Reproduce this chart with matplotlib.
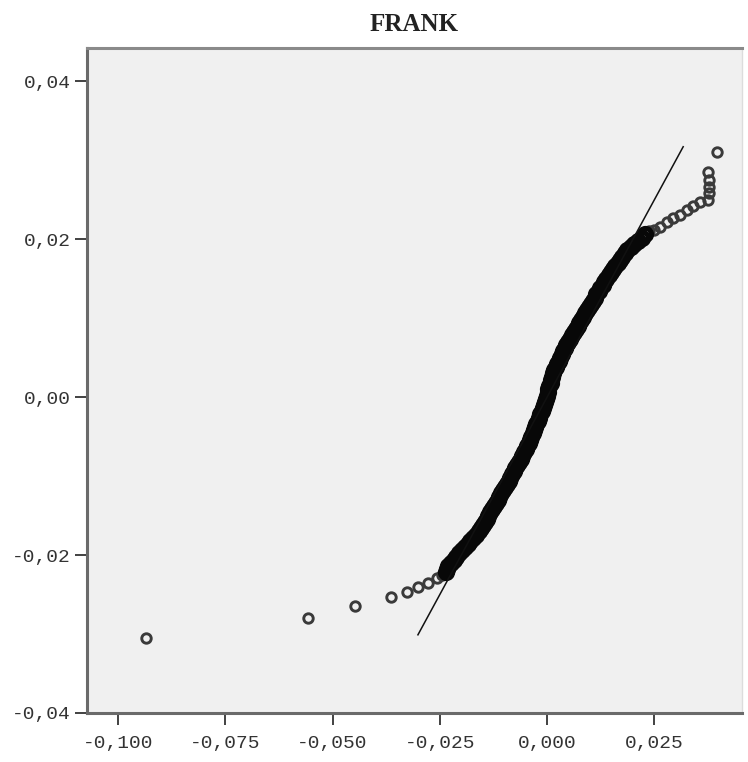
import matplotlib
matplotlib.use("Agg")
import matplotlib.pyplot as plt

# observed value (x) vs expected normal value (y), read off the picture
# lower tail, separate circles
low_obs = [-0.0934, -0.0557, -0.0447, -0.0363, -0.0326, -0.0301, -0.0277, -0.0256, -0.0244]
low_exp = [-0.0305, -0.0280, -0.0265, -0.0253, -0.0247, -0.0241, -0.0235, -0.0229, -0.0225]

# dense middle part (solid black band)
band_obs = [
    -0.0236, -0.0233, -0.0230, -0.0225, -0.0218, -0.0212, -0.0205, -0.0199, -0.0192,
    -0.0185, -0.0179, -0.0172, -0.0166, -0.0159, -0.0154, -0.0150, -0.0145, -0.0141,
    -0.0137, -0.0132, -0.0128, -0.0124, -0.0119, -0.0115, -0.0111, -0.0107, -0.0102,
    -0.0098, -0.0094, -0.0090, -0.0086, -0.0082, -0.0078, -0.0074, -0.0070, -0.0066,
    -0.0062, -0.0058, -0.0054, -0.0050, -0.0046, -0.0043, -0.0040, -0.0037, -0.0034,
    -0.0031, -0.0028, -0.0025, -0.0022, -0.0019, -0.0016, -0.0013, -0.0010, -0.0007,
    -0.0005, -0.0003, -0.0001, 0.0001, 0.0003, 0.0005, 0.0008, 0.0010, 0.0012,
    0.0014, 0.0017, 0.0021, 0.0024, 0.0028, 0.0031, 0.0035, 0.0038, 0.0042,
    0.0045, 0.0049, 0.0054, 0.0058, 0.0062, 0.0067, 0.0071, 0.0075, 0.0080,
    0.0084, 0.0089, 0.0093, 0.0097, 0.0102, 0.0106, 0.0111, 0.0115, 0.0120,
    0.0124, 0.0129, 0.0133, 0.0138, 0.0143, 0.0148, 0.0154, 0.0159, 0.0164,
    0.0170, 0.0175, 0.0181, 0.0186, 0.0195, 0.0203, 0.0212, 0.0220, 0.0229,
]
band_exp = [
    -0.0221, -0.0218, -0.0214, -0.0210, -0.0206, -0.0202, -0.0198, -0.0194, -0.0190,
    -0.0186, -0.0182, -0.0178, -0.0174, -0.0170, -0.0166, -0.0162, -0.0158, -0.0154,
    -0.0150, -0.0146, -0.0142, -0.0138, -0.0134, -0.0130, -0.0126, -0.0122, -0.0118,
    -0.0114, -0.0110, -0.0106, -0.0102, -0.0098, -0.0094, -0.0090, -0.0086, -0.0082,
    -0.0078, -0.0074, -0.0070, -0.0066, -0.0062, -0.0058, -0.0054, -0.0050, -0.0046,
    -0.0042, -0.0038, -0.0034, -0.0030, -0.0026, -0.0022, -0.0018, -0.0014, -0.0010,
    -0.0006, -0.0002, 0.0002, 0.0006, 0.0010, 0.0014, 0.0018, 0.0022, 0.0026,
    0.0030, 0.0034, 0.0038, 0.0042, 0.0046, 0.0050, 0.0054, 0.0058, 0.0062,
    0.0066, 0.0070, 0.0074, 0.0078, 0.0082, 0.0086, 0.0090, 0.0094, 0.0098,
    0.0102, 0.0106, 0.0110, 0.0114, 0.0118, 0.0122, 0.0126, 0.0130, 0.0134,
    0.0138, 0.0142, 0.0146, 0.0150, 0.0154, 0.0158, 0.0162, 0.0166, 0.0170,
    0.0174, 0.0178, 0.0182, 0.0186, 0.0190, 0.0194, 0.0198, 0.0202, 0.0206,
]

# upper tail, separate circles
high_obs = [0.0237, 0.0250, 0.0263, 0.0280, 0.0294, 0.0310, 0.0326, 0.0340, 0.0356,
            0.0375, 0.0377, 0.0377, 0.0377, 0.0375, 0.0396]
high_exp = [0.0210, 0.0212, 0.0215, 0.0222, 0.0227, 0.0230, 0.0237, 0.0242, 0.0247,
            0.0249, 0.0258, 0.0266, 0.0275, 0.0285, 0.0310]

# reference line (y = x)
line_x = [-0.0301, 0.0317]
line_y = [-0.0301, 0.0317]

xticks = [-0.100, -0.075, -0.050, -0.025, 0.000, 0.025]
xticklabels = ["-0,100", "-0,075", "-0,050", "-0,025", "0,000", "0,025"]
yticks = [-0.04, -0.02, 0.00, 0.02, 0.04]
yticklabels = ["-0,04", "-0,02", "0,00", "0,02", "0,04"]

fig = plt.figure(figsize=(7.48, 7.62), dpi=100)
ax = fig.add_axes([87 / 748, 1 - 713 / 762, (742 - 87) / 748, (713 - 48) / 762])
ax.set_facecolor("#f0f0f0")

ring = dict(linestyle="none", marker="o", markerfacecolor="none")
ax.plot(low_obs, low_exp, markersize=6.8, markeredgecolor="#3a3a3a",
        markeredgewidth=2.1, **ring)
ax.plot(high_obs, high_exp, markersize=6.8, markeredgecolor="#3a3a3a",
        markeredgewidth=2.1, **ring)
ax.plot(band_obs, band_exp, markersize=8.8, markeredgecolor="#080808",
        markeredgewidth=3.6, **ring)
ax.plot(line_x, line_y, color="#111111", linewidth=1.1)

ax.set_xlim(-0.1072, 0.0454)
ax.set_ylim(-0.04, 0.0442)

ax.set_xticks(xticks)
ax.set_xticklabels(xticklabels)
ax.set_yticks(yticks)
ax.set_yticklabels(yticklabels)
ax.tick_params(direction="out", length=8.5, width=1.3, color="#333333",
               labelsize=14, labelcolor="#333333")
ax.tick_params(axis="x", pad=7)
ax.tick_params(axis="y", pad=3)
for lab in ax.get_xticklabels() + ax.get_yticklabels():
    lab.set_family("Liberation Mono")

for side in ["left", "bottom"]:
    ax.spines[side].set_color("#6a6a6a")
    ax.spines[side].set_linewidth(2.2)
ax.spines["top"].set_color("#8a8a8a")
ax.spines["top"].set_linewidth(2.2)
ax.spines["right"].set_color("#dcdcdc")
ax.spines["right"].set_linewidth(1.0)

ax.set_title("FRANK", family="Liberation Serif", fontsize=18, fontweight="bold",
             color="#222222", pad=12)

fig.savefig("out.png", dpi=100)
